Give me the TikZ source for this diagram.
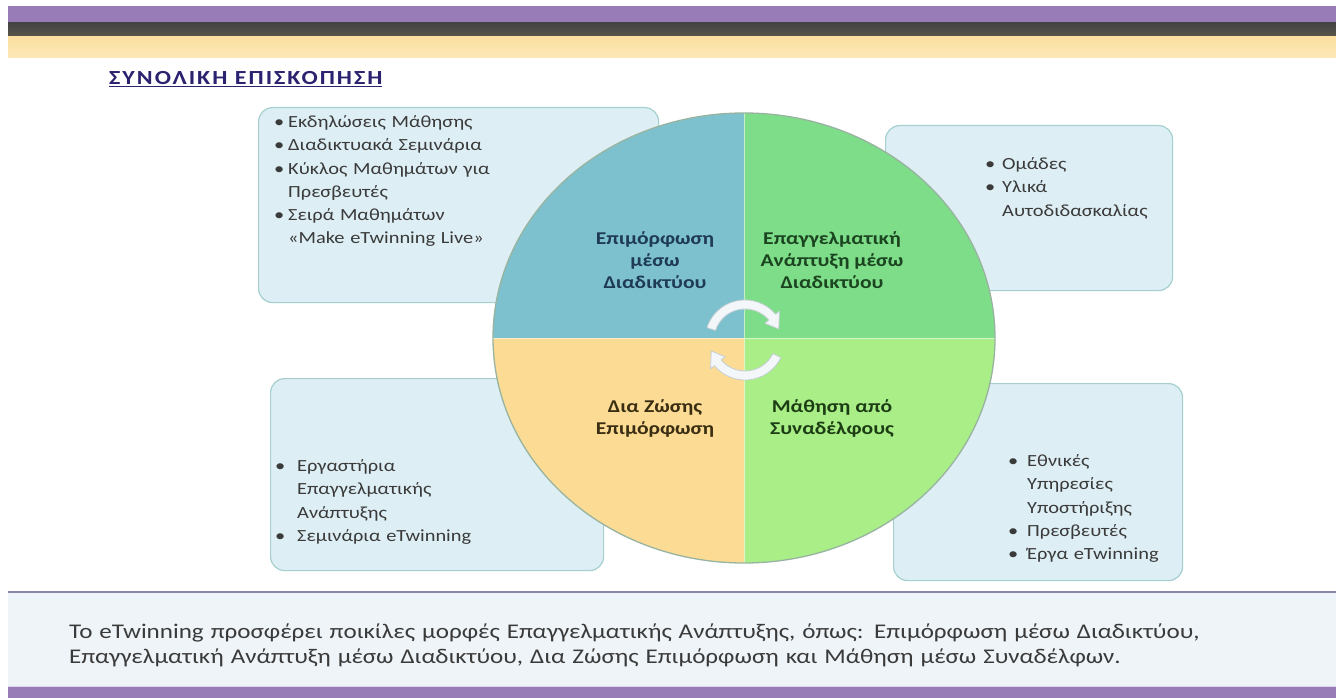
\documentclass[tikz,border=0pt]{standalone}
\usepackage{fontspec}
\setmainfont{Carlito}[FakeStretch=1.2]
\newfontfamily\titlefont{Carlito}[LetterSpace=10,FakeStretch=1.2]
\usepackage{graphicx}
\definecolor{bandpurple}{HTML}{977CB8}
\definecolor{banddark}{HTML}{444444}
\definecolor{banddark2}{HTML}{5A564A}
\definecolor{bandyellow}{HTML}{FBE0A0}
\definecolor{titlec}{HTML}{2B2270}
\definecolor{boxfill}{HTML}{DDEEF4}
\definecolor{boxline}{HTML}{A6D0CF}
\definecolor{bodytext}{HTML}{3A3A3A}
\definecolor{qtl}{HTML}{7DC1CF}
\definecolor{qtr}{HTML}{7EDD88}
\definecolor{qbl}{HTML}{FCDB94}
\definecolor{qbr}{HTML}{A9EE87}
\definecolor{rimc}{HTML}{98B4A0}
\definecolor{qtltext}{HTML}{1E3A55}
\definecolor{qtrtext}{HTML}{1B4421}
\definecolor{qbltext}{HTML}{3A2E12}
\definecolor{qbrtext}{HTML}{1D3D14}
\definecolor{footband}{HTML}{EEF4F7}
\definecolor{footline}{HTML}{8C86A6}
\definecolor{arrowfill}{HTML}{F3F7F9}
\definecolor{arrowline}{HTML}{C5CFD4}
\newlength\bind
\setlength\bind{15pt}
\newcommand\bitem[1]{\par\hangindent=\bind\hangafter=1\noindent\makebox[\bind][l]{\textbullet}#1}
\tikzset{
  infobox/.style={draw=boxline, line width=1.2pt, fill=boxfill, rounded corners=14pt, anchor=north west, inner sep=0pt},
  boxtext/.style={anchor=north west, inner sep=0pt, text=bodytext, font=\fontsize{17}{23.3}\selectfont},
  qtext/.style={align=center, font=\bfseries\fontsize{18}{22}\selectfont, inner sep=0pt},
  cyc/.style={fill=arrowfill, draw=arrowline, line width=0.8pt, line join=round}
}
\begin{document}
\begin{tikzpicture}[x=1pt,y=1pt]
\useasboundingbox (0,0) rectangle (1336,-698);
\fill[white] (0,0) rectangle (1336,-698);
% top bands
\fill[bandpurple] (8,-6) rectangle (1336,-23);
\shade[top color=banddark, bottom color=banddark2] (8,-23) rectangle (1336,-37);
\shade[top color=bandyellow, bottom color=bandyellow!75!white] (8,-37) rectangle (1336,-58);
% title
\node (title) [anchor=base west, inner sep=0pt, text=titlec, font=\titlefont\bfseries\fontsize{20}{22}\selectfont] at (109,-85) {\underline{ΣΥΝΟΛΙΚΗ ΕΠΙΣΚΟΠΗΣΗ}};
% boxes
\node (boxTL) [infobox, minimum width=400, minimum height=195] at (258,-107) {};
\node (boxTR) [infobox, minimum width=287, minimum height=165] at (885,-125) {};
\node (boxBL) [infobox, minimum width=333, minimum height=192] at (270,-378) {};
\node (boxBR) [infobox, minimum width=289, minimum height=197] at (893,-383) {};
% box texts
\node (txtTL) [boxtext, text width=360] at (274,-104) {\raggedright\setlength\bind{14pt}%
  \bitem{Εκδηλώσεις Μάθησης}
  \bitem{Διαδικτυακά Σεμινάρια}
  \bitem{Κύκλος Μαθημάτων για\newline Πρεσβευτές}
  \bitem{Σειρά Μαθημάτων\newline «Make eTwinning Live»}\par};
\node (txtTR) [boxtext, text width=180] at (985,-146) {\raggedright\setlength\bind{17pt}%
  \bitem{Ομάδες}
  \bitem{Υλικά\newline Αυτοδιδασκαλίας}\par};
\node (txtBL) [boxtext, text width=300] at (275,-448) {\raggedright\setlength\bind{22pt}%
  \bitem{Εργαστήρια\newline Επαγγελματικής\newline Ανάπτυξης}
  \bitem{Σεμινάρια eTwinning}\par};
\node (txtBR) [boxtext, text width=170] at (1008,-443) {\raggedright\setlength\bind{19pt}%
  \bitem{Εθνικές\newline Υπηρεσίες\newline Υποστήριξης}
  \bitem{Πρεσβευτές}
  \bitem{Έργα eTwinning}\par};
% circle quadrants
\coordinate (cc) at (744,-338);
\fill[qtl] (cc) -- (493,-338) arc[start angle=180,end angle=90,x radius=251,y radius=225] -- cycle;
\fill[qtr] (cc) -- (744,-113) arc[start angle=90,end angle=0,x radius=251,y radius=225] -- cycle;
\fill[qbr] (cc) -- (995,-338) arc[start angle=0,end angle=-90,x radius=251,y radius=225] -- cycle;
\fill[qbl] (cc) -- (744,-563) arc[start angle=-90,end angle=-180,x radius=251,y radius=225] -- cycle;
\draw[white, opacity=0.55, line width=1pt] (744,-113) -- (744,-563) (493,-338) -- (995,-338);
\draw[rimc, line width=1.3pt] (cc) ellipse[x radius=251, y radius=225];
% quadrant labels
\node (qTL) [qtext, text=qtltext] at (655,-260) {Επιμόρφωση\\μέσω\\Διαδικτύου};
\node (qTR) [qtext, text=qtrtext] at (832,-260) {Επαγγελματική\\Ανάπτυξη μέσω\\Διαδικτύου};
\node (qBL) [qtext, text=qbltext] at (655,-418) {Δια Ζώσης\\Επιμόρφωση};
\node (qBR) [qtext, text=qbrtext] at (832,-418) {Μάθηση από\\Συναδέλφους};
% cycle arrows
\coordinate (ctr) at (745,-340);
\filldraw[cyc] ([shift={(ctr)}]162:40) arc[start angle=162,end angle=40,radius=40]
  -- ([shift={(ctr)}]40:45) -- ([shift={(ctr)}]18:35.5) -- ([shift={(ctr)}]40:26)
  -- ([shift={(ctr)}]40:31) arc[start angle=40,end angle=162,radius=31] -- cycle;
\filldraw[cyc] ([shift={(ctr)}]-26:40) arc[start angle=-26,end angle=-140,radius=40]
  -- ([shift={(ctr)}]-140:45) -- ([shift={(ctr)}]-162:35.5) -- ([shift={(ctr)}]-140:26)
  -- ([shift={(ctr)}]-140:31) arc[start angle=-140,end angle=-26,radius=31] -- cycle;
% footer
\fill[footband] (8,-593) rectangle (1336,-686);
\draw[footline, line width=2pt] (8,-592) -- (1336,-592);
\fill[bandpurple] (8,-686) rectangle (1336,-698);
\draw[white!70!bandpurple, line width=1pt] (8,-686.5) -- (1336,-686.5);
\node (foot) [anchor=north west, inner sep=0pt, text width=1260, text=bodytext, font=\fontsize{20.9}{24.5}\selectfont] at (69,-624) {\raggedright
Το eTwinning προσφέρει ποικίλες μορφές Επαγγελματικής Ανάπτυξης, όπως: Επιμόρφωση μέσω Διαδικτύου,\\
Επαγγελματική Ανάπτυξη μέσω Διαδικτύου, Δια Ζώσης Επιμόρφωση και Μάθηση μέσω Συναδέλφων.\par};
\end{tikzpicture}
\end{document}
